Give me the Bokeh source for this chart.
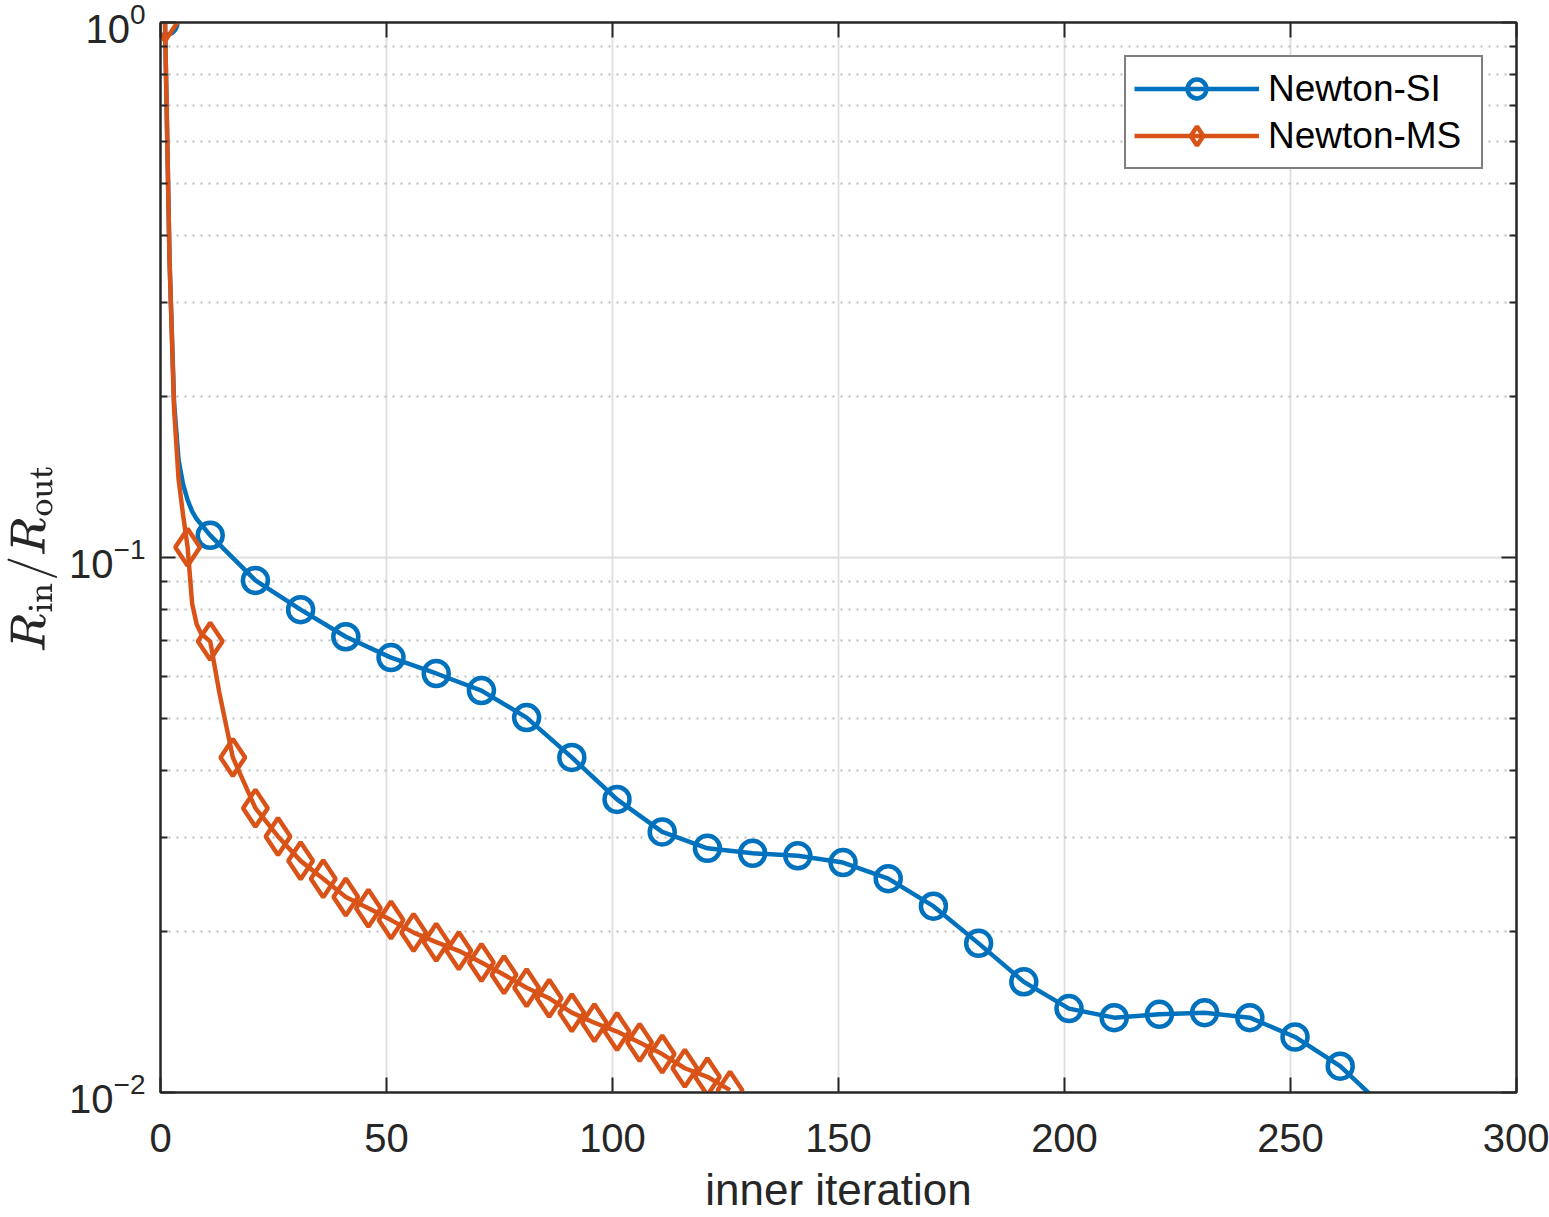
from bokeh.plotting import figure
from bokeh.models import (Range1d, LinearAxis, LogAxis, SingleIntervalTicker,
                          FixedTicker, LogTickFormatter, Legend, LegendItem)
from bokeh.embed import file_html
from bokeh.resources import INLINE

# Residual ratio per inner iteration, Newton-SI
si_iter = [1, 2, 3, 4, 5, 6, 7, 8, 11, 21, 31, 41, 51, 61, 71, 81, 91, 101,
           111, 121, 131, 141, 151, 161, 171, 181, 191, 201, 211, 221, 231,
           241, 251, 261, 270]
si_val = [1.0, 0.36, 0.195, 0.152, 0.137, 0.128, 0.122, 0.118, 0.110, 0.0906,
          0.0799, 0.0711, 0.0650, 0.0607, 0.0564, 0.0502, 0.0423, 0.0353,
          0.0307, 0.0286, 0.0280, 0.0277, 0.0269, 0.0251, 0.0223, 0.0190,
          0.0161, 0.01435, 0.0138, 0.0140, 0.0141, 0.0138, 0.0127, 0.0112,
          0.0095]

# Residual ratio per inner iteration, Newton-MS
ms_iter = [1, 2, 3, 4, 5, 6, 7, 8, 9, 11, 13, 16, 21, 26, 31, 36, 41, 46, 51,
           56, 61, 66, 71, 76, 81, 86, 91, 96, 101, 106, 111, 116, 121, 126]
ms_val = [1.0, 0.36, 0.19, 0.14, 0.12, 0.1045, 0.082, 0.075, 0.072, 0.0697,
          0.056, 0.0423, 0.0340, 0.0301, 0.0271, 0.0251, 0.0232, 0.0221,
          0.0210, 0.0199, 0.0191, 0.0184, 0.0175, 0.0166, 0.0157, 0.0150,
          0.0141, 0.0135, 0.0130, 0.0124, 0.0118, 0.0111, 0.0107, 0.0101]

# markers are drawn every 10th (SI) and every 5th (MS) iteration
si_mx = [x for x in si_iter if x % 10 == 1]
si_my = [v for x, v in zip(si_iter, si_val) if x % 10 == 1]
ms_mx = [x for x in ms_iter if x % 5 == 1]
ms_my = [v for x, v in zip(ms_iter, ms_val) if x % 5 == 1]

x_tick_step = 50
y_major = [0.01, 0.1, 1.0]
y_minor = [k * d for d in (0.01, 0.1) for k in range(2, 10)]

BLUE = "#0072BD"
ORANGE = "#D95319"
AXC = "#262626"
FONT = "Liberation Sans"

p = figure(width=1549, height=1217, y_axis_type="log",
           x_range=Range1d(0, 300), y_range=Range1d(1e-2, 1e0),
           output_backend="svg", toolbar_location=None,
           min_border_left=160, min_border_right=33,
           min_border_top=22, min_border_bottom=125)

p.background_fill_color = "white"
p.border_fill_color = "white"
p.outline_line_color = AXC
p.outline_line_width = 2

xticker = SingleIntervalTicker(interval=x_tick_step, num_minor_ticks=0)
yticker = FixedTicker(ticks=y_major, minor_ticks=y_minor)
p.xaxis.ticker = xticker
p.xgrid.ticker = xticker
p.yaxis.ticker = yticker
p.ygrid.ticker = yticker
p.yaxis.formatter = LogTickFormatter()

# grid
p.xgrid.grid_line_color = "#dedede"
p.xgrid.grid_line_width = 1.8
p.ygrid.grid_line_color = "#dedede"
p.ygrid.grid_line_width = 1.8
p.ygrid.minor_grid_line_color = "#bdbdbd"
p.ygrid.minor_grid_line_width = 2
p.ygrid.minor_grid_line_dash = "2 6"


def style_axis(ax, labels=True):
    ax.axis_line_color = AXC
    ax.axis_line_width = 2
    ax.major_tick_line_color = AXC
    ax.major_tick_line_width = 2
    ax.minor_tick_line_color = AXC
    ax.minor_tick_line_width = 2
    ax.major_tick_in = 15
    ax.major_tick_out = 0
    ax.minor_tick_in = 7
    ax.minor_tick_out = 0
    ax.major_label_text_font = FONT
    if labels:
        ax.major_label_text_color = AXC
        ax.major_label_text_font_size = "40px"
    else:
        ax.major_label_text_color = None
        ax.major_label_text_font_size = "1px"
        ax.major_label_standoff = 0


style_axis(p.xaxis[0])
style_axis(p.yaxis[0])
p.xaxis.major_label_standoff = 31
p.yaxis.major_label_standoff = 15
p.xaxis.minor_tick_in = 0

p.xaxis.axis_label = "inner iteration"
p.xaxis.axis_label_text_font = FONT
p.xaxis.axis_label_text_font_style = "normal"
p.xaxis.axis_label_text_font_size = "44px"
p.xaxis.axis_label_text_color = AXC
p.xaxis.axis_label_standoff = 10

p.yaxis.axis_label = r"$$R_{\mathrm{in}}/R_{\mathrm{out}}$$"
p.yaxis.axis_label_text_font_size = "40px"
p.yaxis.axis_label_text_color = AXC
p.yaxis.axis_label_standoff = 9

top = LinearAxis(ticker=xticker)
style_axis(top, labels=False)
top.minor_tick_in = 0
p.add_layout(top, "above")

right = LogAxis(ticker=yticker)
style_axis(right, labels=False)
p.add_layout(right, "right")

# series
l1 = p.line(si_iter, si_val, line_width=4.5, color=BLUE)
m1 = p.scatter(si_mx, si_my, marker="circle", size=25, line_color=BLUE,
               line_width=4.5, fill_alpha=0)
l2 = p.line(ms_iter, ms_val, line_width=4.5, color=ORANGE)
m2 = p.scatter(ms_mx, ms_my, marker="diamond", size=37, line_color=ORANGE,
               line_width=4.5, fill_alpha=0)

legend = Legend(items=[LegendItem(label="Newton-SI", renderers=[l1, m1]),
                       LegendItem(label="Newton-MS", renderers=[l2, m2])],
                location="top_right", margin=33, padding=8, spacing=0,
                glyph_width=125, glyph_height=47, label_height=47,
                label_width=205, label_standoff=9, label_text_font=FONT,
                label_text_font_size="37px", label_text_color="black",
                border_line_color="black", border_line_width=2,
                background_fill_color="white", background_fill_alpha=1)
p.add_layout(legend, "center")

open("out.html", "w").write(file_html(p, INLINE))
